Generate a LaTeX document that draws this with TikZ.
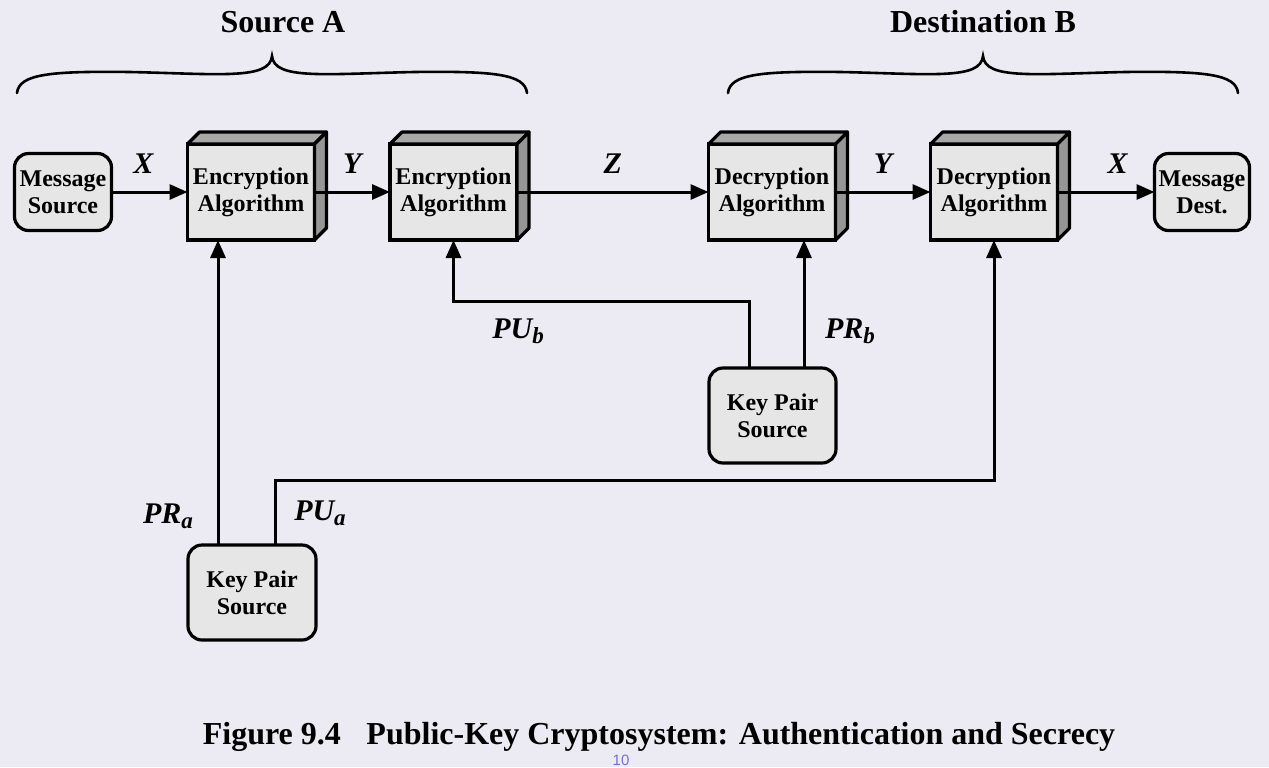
\documentclass[tikz,border=0pt]{standalone}
\usepackage{fontspec}
\setmainfont{Liberation Serif}
\setsansfont{Liberation Sans}
\usetikzlibrary{arrows.meta}
\usetikzlibrary{calc}

\definecolor{paper}{RGB}{236,235,243}
\definecolor{boxfill}{RGB}{230,230,230}
\definecolor{boxtop}{RGB}{168,168,168}
\definecolor{boxside}{RGB}{150,150,150}
\definecolor{pagenum}{RGB}{120,110,210}

\newcommand{\keyname}[2]{\textit{#1}\raisebox{-0.35ex}{\fontsize{11.5}{12}\selectfont\textit{#2}}}

\tikzset{
  algbox/.style={draw, line width=1.6pt, fill=boxfill, minimum width=63.5pt, minimum height=48pt,
    inner sep=0pt, outer sep=0pt, align=center, font=\bfseries\fontsize{12}{13.5}\selectfont},
  srcbox/.style={draw, line width=1.6pt, fill=boxfill, rounded corners=7pt, inner sep=0pt,
    outer sep=0pt, align=center, font=\bfseries\fontsize{12}{13.5}\selectfont},
  arr/.style={line width=1.5pt, -{Triangle[length=9pt,width=7.5pt]}},
  lbl/.style={font=\bfseries\itshape\fontsize{15}{17}\selectfont},
  brc/.style={line width=1.3pt, line cap=round},
}

\begin{document}
\begin{tikzpicture}[x=0.5pt,y=-0.5pt]

    \useasboundingbox (0,0) rectangle (1269,767);
    \fill[paper] (0,0) rectangle (1269,767);

    % group titles and braces
    \node[font=\bfseries\fontsize{16}{18}\selectfont] (srca) at (283,22) {Source A};
    \node[font=\bfseries\fontsize{16}{18}\selectfont] (dstb) at (983,22) {Destination B};
    \foreach \dx in {0,711}
      \draw[brc, shift={(\dx,0)}] (17,93) .. controls (19,74) and (50,71) .. (130,72)
        .. controls (220,74) and (270,80) .. (272,56)
        .. controls (274,80) and (324,74) .. (414,72)
        .. controls (494,71) and (525,74) .. (527,93);

    % boxes
    \node[srcbox, minimum width=48.5pt, minimum height=38.5pt] (msrc) at (63,192) {Message\\Source};
    \node[algbox] (enca) at (251,192) {Encryption\\Algorithm};
    \node[algbox] (encb) at (453.5,192) {Encryption\\Algorithm};
    \node[algbox] (deca) at (772,192) {Decryption\\Algorithm};
    \node[algbox] (decb) at (994,192) {Decryption\\Algorithm};
    \node[srcbox, minimum width=47.5pt, minimum height=38.5pt] (mdst) at (1202,192) {Message\\Dest.};
    \node[srcbox, minimum width=63.5pt, minimum height=47.5pt] (kpb) at (772.5,415.5) {Key Pair\\Source};
    \node[srcbox, minimum width=64pt, minimum height=47.5pt] (kpa) at (252,592.5) {Key Pair\\Source};

    \foreach \n in {enca,encb,deca,decb}{
      \filldraw[fill=boxtop, line width=1.6pt, line join=round] (\n.north west) -- ++(12,-12)
        -- ($(\n.north east)+(12,-12)$) -- (\n.north east) -- cycle;
      \filldraw[fill=boxside, line width=1.6pt, line join=round] (\n.north east) -- ++(12,-12)
        -- ($(\n.south east)+(12,-12)$) -- (\n.south east) -- cycle;
    }

    % message flow
    \draw[arr] (msrc) -- node[lbl, pos=0.42, above=5pt] (lx1) {X} (enca);
    \draw[arr] (enca) -- node[lbl, above=5pt] (ly1) {Y} (encb);
    \draw[arr] (encb) -- node[lbl, above=5pt] (lz) {Z} (deca);
    \draw[arr] (deca) -- node[lbl, above=5pt] (ly2) {Y} (decb);
    \draw[arr] (decb) -- node[lbl, pos=0.62, above=5pt] (lx2) {X} (mdst);

    % keys
    \draw[arr] ([xshift=-17pt]kpa.north) -- ([xshift=-17pt]kpa.north |- enca.south);
    \draw[arr] ([xshift=11.5pt]kpa.north) -- ++(0,-65) -| (decb.south);
    \draw[arr] ([xshift=-11.75pt]kpb.north) -- ++(0,-67) -| (encb.south);
    \draw[arr] ([xshift=15.75pt]kpb.north) -- ([xshift=15.75pt]kpb.north |- deca.south);

    \node[lbl] (pub) at (518,331) {\keyname{PU}{b}};
    \node[lbl] (prb) at (850,331) {\keyname{PR}{b}};
    \node[lbl] (pra) at (168,516) {\keyname{PR}{a}};
    \node[lbl] (pua) at (320,513) {\keyname{PU}{a}};

    % caption
    \node[font=\bfseries\fontsize{16}{18}\selectfont, inner sep=0pt] (cap) at (659,737)
      {Figure 9.4\hspace{0.8em}Public-Key Cryptosystem: Authentication and Secrecy};
    \node[font=\sffamily\fontsize{7.5}{8}\selectfont, text=pagenum, inner sep=0pt] (pgno) at (621,760) {10};
  \end{tikzpicture}
\end{document}
